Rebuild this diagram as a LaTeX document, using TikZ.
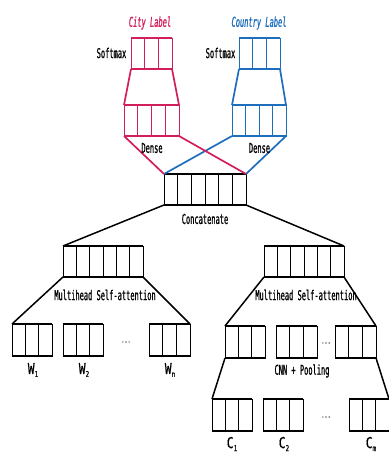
\documentclass[tikz,border=0pt]{standalone}
\usepackage{fontspec}
\newfontfamily\lblfont[FakeStretch=0.52,FakeBold=0.8]{DejaVu Sans Mono}
\newfontfamily\idxfont[FakeStretch=0.75,FakeBold=0.6]{DejaVu Sans Mono}
\usetikzlibrary{calc}
\definecolor{cityred}{HTML}{D21E5A}
\definecolor{ctryblue}{HTML}{1E6EBE}
\tikzset{
  cellbox/.style={draw, rectangle, line width=0.9pt, outer sep=0pt, inner sep=0pt},
  lbl/.style={font=\lblfont\fontsize{13.5}{13.5}\selectfont, inner sep=1pt},
  toplbl/.style={font=\lblfont\itshape\fontsize{13.5}{13.5}\selectfont, inner sep=1pt},
  idxlbl/.style={font=\idxfont\fontsize{15}{15}\selectfont, inner sep=1pt},
  dotslbl/.style={font=\lblfont\fontsize{10}{10}\selectfont, text=black!70, inner sep=1pt},
  conn/.style={line width=1.5pt},
  cconn/.style={line width=1.7pt}
}
\newcommand\subidx[1]{\raisebox{-3pt}{\fontsize{8}{8}\selectfont #1}}
\newcommand\cellrow[7]{%
  \node[cellbox, draw=#7, minimum width=#4pt, minimum height=#5pt] (#1) at (#2,#3) {};
  \pgfmathtruncatemacro\ncells{#6-1}%
  \foreach \k in {1,...,\ncells}{\draw[#7, line width=0.9pt] ($(#1.north west)!\k/#6!(#1.north east)$) -- ($(#1.south west)!\k/#6!(#1.south east)$);}%
  \draw[#7, line width=1.9pt] (#1.north west) -- (#1.north east) (#1.south west) -- (#1.south east);%
}
\begin{document}
\begin{tikzpicture}[x=1pt,y=-1pt]
\useasboundingbox[fill=white] (0,0) rectangle (388,452);
% output layers
\cellrow{citySm}{151.5}{53.5}{41}{31}{3}{cityred}
\cellrow{cityDense}{151.5}{120.5}{55}{31}{4}{cityred}
\cellrow{ctrySm}{259.5}{53.5}{41}{31}{3}{ctryblue}
\cellrow{ctryDense}{259}{120.5}{54}{31}{4}{ctryblue}
\cellrow{concat}{205}{189.5}{82}{31}{6}{black}
\cellrow{msaL}{103}{261.5}{80}{31}{6}{black}
\cellrow{msaR}{304}{261.5}{80}{31}{6}{black}
\cellrow{w1}{32}{340}{40}{32}{3}{black}
\cellrow{w2}{83}{340}{40}{32}{3}{black}
\cellrow{wn}{169.5}{340}{41}{32}{3}{black}
\cellrow{cnn1}{245}{342}{40}{32}{3}{black}
\cellrow{cnn2}{296.5}{342}{41}{32}{3}{black}
\cellrow{cnn3}{355.5}{342}{41}{32}{3}{black}
\cellrow{c1}{232}{415}{40}{32}{3}{black}
\cellrow{c2}{283}{415}{40}{32}{3}{black}
\cellrow{cm}{369}{415}{40}{32}{3}{black}
% colored connectors
\draw[cconn, cityred] (citySm.south west) -- (cityDense.north west) (citySm.south east) -- (cityDense.north east);
\draw[cconn, ctryblue] (ctrySm.south west) -- (ctryDense.north west) (ctrySm.south east) -- (ctryDense.north east);
\draw[cconn, ctryblue] (ctryDense.south west) -- (concat.north west) (ctryDense.south east) -- (concat.north east);
\draw[cconn, cityred] (cityDense.south west) -- (concat.north west) (cityDense.south east) -- (concat.north east);
% black connectors
\draw[conn] (concat.south west) -- (msaL.north west) (concat.south east) -- (msaR.north east);
\draw[conn] (msaL.south west) -- (w1.north west) (msaL.south east) -- (wn.north east);
\draw[conn] (msaR.south west) -- (cnn1.north west) (msaR.south east) -- (cnn3.north east);
\draw[conn] (cnn1.south west) -- (c1.north west) (cnn3.south east) -- (cm.north east);
% labels
\node[toplbl, text=cityred] (cityLbl) at (150,23) {City Label};
\node[toplbl, text=ctryblue] (ctryLbl) at (259,23) {Country Label};
\node[lbl] (citySmLbl) at (111.5,53) {Softmax};
\node[lbl] (ctrySmLbl) at (220.5,53) {Softmax};
\node[lbl] (cityDLbl) at (152,148) {Dense};
\node[lbl] (ctryDLbl) at (259.5,148) {Dense};
\node[lbl] (concatLbl) at (205,219) {Concatenate};
\node[lbl] (msaLLbl) at (105,295) {Multihead Self-attention};
\node[lbl] (msaRLbl) at (306,295) {Multihead Self-attention};
\node[lbl] (cnnLbl) at (302,371) {CNN + Pooling};
\node[dotslbl] (wdots) at (126,342) {...};
\node[dotslbl] (cnndots) at (326,343) {...};
\node[dotslbl] (cdots) at (326,417) {...};
\node[idxlbl] (w1Lbl) at (33,370) {W\subidx{1}};
\node[idxlbl] (w2Lbl) at (84,370) {W\subidx{2}};
\node[idxlbl] (wnLbl) at (170,370) {W\subidx{n}};
\node[idxlbl] (c1Lbl) at (232,444) {C\subidx{1}};
\node[idxlbl] (c2Lbl) at (284,444) {C\subidx{2}};
\node[idxlbl] (cmLbl) at (371,444) {C\subidx{m}};
\end{tikzpicture}
\end{document}
